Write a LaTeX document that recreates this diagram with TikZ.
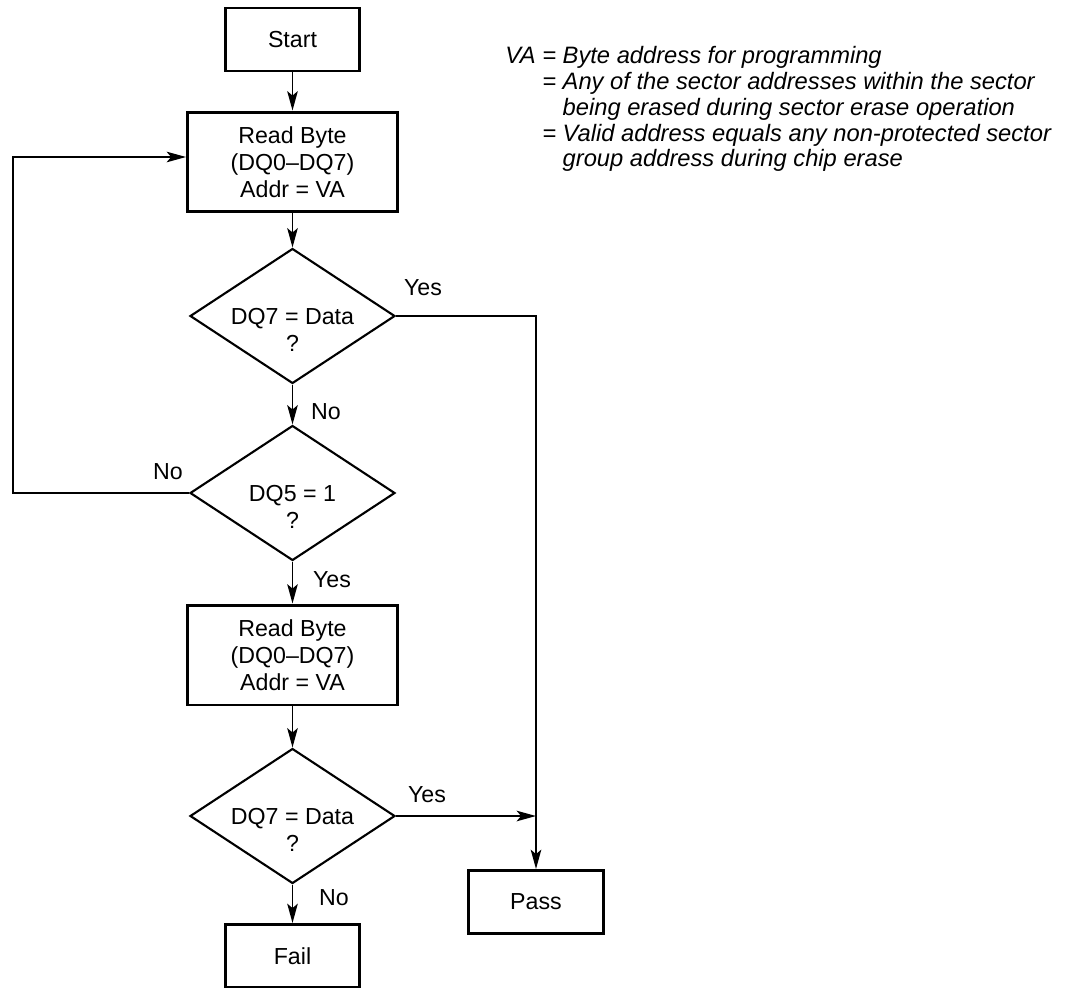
\documentclass[tikz,border=0pt]{standalone}
\usepackage{fontspec}
\setmainfont{Liberation Sans}
\usetikzlibrary{arrows.meta,shapes.geometric}

% question text: first line on the middle of the diamond
\newcommand\qtext[1]{\begin{tabular}[t]{@{}c@{}}#1\end{tabular}}

\tikzset{
  txt/.style={font=\fontsize{13.2}{15.3}\selectfont},
  box/.style={txt, draw, line width=1.7pt, minimum width=2.7cm, minimum height=1.26cm, inner sep=0pt, align=center},
  readbox/.style={box, minimum width=4.2cm, minimum height=2cm},
  decision/.style={txt, draw, diamond, aspect=1.5, line width=1.2pt, minimum width=4.1cm, minimum height=2.7cm, inner sep=0pt, text height=9.5pt, text depth=0pt},
  conn/.style={line width=1.1pt, -{Stealth[length=11pt,width=6pt,inset=2.5pt]}},
  lbl/.style={txt, inner sep=0pt},
  note/.style={font=\fontsize{13.5}{14.7}\selectfont\itshape, align=left, inner sep=0pt}
}

\begin{document}
\begin{tikzpicture}[x=0.02cm, y=-0.02cm]
			%%%%% START %%%%%
			\useasboundingbox (0,0) rectangle (1071,987);
			
			\node[box] (start) at (292.5, 39.5) {Start};
			\node[readbox] (read1) at (292.5, 162) {Read Byte\\(DQ0--DQ7)\\Addr = VA};
			\node[decision] (dq7a) at (292.5, 316) {\qtext{DQ7 = Data\\?}};
			\node[decision] (dq5) at (292.5, 493) {\qtext{DQ5 = 1\\?}};
			\node[readbox] (read2) at (292.5, 655) {Read Byte\\(DQ0--DQ7)\\Addr = VA};
			\node[decision] (dq7b) at (292.5, 816) {\qtext{DQ7 = Data\\?}};
			\node[box] (fail) at (292.5, 956) {Fail};
			\node[box] (pass) at (536, 902) {Pass};
			
			\coordinate (loop) at (13, 493);
			
			\draw[conn] (start) -- (read1);
			\draw[conn] (read1) -- (dq7a);
			\draw[conn] (dq7a) -- (dq5);
			\draw[conn] (dq5) -- (read2);
			\draw[conn] (read2) -- (dq7b);
			\draw[conn] (dq7b) -- (fail);
			\draw[conn] (dq7a.east) -| (pass.north);
			\draw[conn] (dq7b.east) -- (dq7b.east -| pass.north);
			\draw[conn] (dq5.west) -- (loop) |- ([yshift=0.1cm]read1.west);
			
			\node[lbl] (yes1) at (423, 288) {Yes};
			\node[lbl] (no1) at (326, 412) {No};
			\node[lbl] (no2) at (168, 472) {No};
			\node[lbl] (yes2) at (332, 580) {Yes};
			\node[lbl] (yes3) at (427, 795) {Yes};
			\node[lbl] (no3) at (334, 898) {No};
			
			\node[note, anchor=north west] (vanote) at (505, 46) {VA = Byte address for programming\\
				\phantom{VA }= Any of the sector addresses within the sector\\
				\phantom{VA = }being erased during sector erase operation\\
				\phantom{VA }= Valid address equals any non-protected sector\\
				\phantom{VA = }group address during chip erase};
			
			%%%%% END %%%%%
\end{tikzpicture}
\end{document}
